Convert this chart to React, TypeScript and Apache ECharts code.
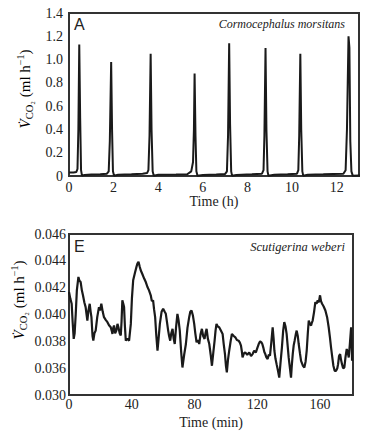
import React, { useEffect, useRef } from "react";
import * as echarts from "echarts";

// Panel A: Cormocephalus morsitans, time (h) vs VCO2 (ml h-1)
const hoursA = [
  0, 0.2, 0.33, 0.38, 0.42, 0.46, 0.5, 0.54, 0.58, 0.7, 1.0, 1.4, 1.7,
  1.78, 1.83, 1.89, 1.93, 1.97, 2.02, 2.2, 2.8, 3.3, 3.5,
  3.56, 3.61, 3.66, 3.7, 3.75, 3.8, 4.0, 4.8, 5.3,
  5.48, 5.56, 5.6, 5.63, 5.67, 5.71, 5.76, 6.0, 6.6, 7.0,
  7.08, 7.13, 7.18, 7.22, 7.27, 7.31, 7.5, 8.2, 8.65,
  8.72, 8.76, 8.81, 8.85, 8.9, 8.94, 9.2, 9.8, 10.22,
  10.28, 10.32, 10.37, 10.41, 10.46, 10.5, 10.7, 11.4, 12.3,
  12.4, 12.46, 12.53, 12.57, 12.61, 12.66, 12.72, 13.0, 13.1,
];
const vco2A = [
  0.03, 0.03, 0.035, 0.06, 0.4, 1.13, 0.5, 0.05, 0.005, 0.008, 0.012, 0.015, 0.02,
  0.04, 0.3, 0.98, 0.4, 0.04, 0.003, 0.01, 0.015, 0.02, 0.025,
  0.05, 0.35, 1.05, 0.4, 0.04, 0.003, 0.01, 0.012, 0.015,
  0.04, 0.12, 0.4, 0.88, 0.35, 0.04, 0.003, 0.008, 0.012, 0.018,
  0.04, 0.35, 1.14, 0.45, 0.04, 0.003, 0.008, 0.014, 0.02,
  0.05, 0.35, 1.1, 0.4, 0.04, 0.003, 0.01, 0.014, 0.02,
  0.05, 0.35, 1.05, 0.4, 0.04, 0.003, 0.01, 0.014, 0.02,
  0.05, 0.4, 1.2, 1.1, 0.3, 0.04, 0.003, 0.005, 0.005,
];

// Panel E: Scutigerina weberi, time (min) vs VCO2 (ml h-1)
const minutesE = [
  0, 0.8, 1.7, 2.3, 3.0, 3.6, 4.3, 5.0, 6.0, 6.7, 7.4, 8.2, 8.9, 9.8, 10.6, 11.2,
  11.7, 12.4, 13.2, 13.8, 14.3, 15.0, 15.5, 16.2, 17.0, 18.0, 19.1, 19.8, 20.6,
  21.5, 22.3, 23.4, 24.5, 25.5, 26.6, 27.2, 27.7, 28.2, 28.7, 29.4, 30.2, 30.9,
  31.5, 32.3, 33.0, 33.5, 34.0, 34.6, 35.1, 35.6, 36.2, 37.2, 38.3, 39.4, 40.1,
  40.9, 42.0, 43.0, 43.6, 44.3, 45.0, 45.7, 46.8, 47.9, 49.0, 50.0, 51.0, 52.1,
  52.8, 53.6, 54.2, 54.9, 55.6, 56.4, 57.1, 57.9, 59.0, 60.0, 61.0, 61.7, 62.5,
  63.2, 63.8, 64.5, 65.2, 66.0, 66.7, 67.4, 68.2, 69.1, 69.8, 70.6, 71.5, 72.3,
  73.4, 74.5, 75.5, 76.6, 77.3, 78.1, 79.0, 79.8, 80.5, 81.3, 82.2, 83.0, 83.8,
  84.7, 85.5, 86.4, 87.0, 87.7, 88.5, 89.4, 90.3, 91.1, 92.0, 92.8, 93.4, 94.0,
  94.8, 95.7, 96.8, 97.9, 98.6, 99.4, 100.0, 100.6, 101.3, 102.1, 103.0, 103.8,
  105.0, 106.0, 107.0, 108.1, 108.9, 109.6, 110.1, 110.6, 111.5, 112.3, 113.6,
  114.9, 116.0, 117.0, 118.0, 119.1, 120.0, 120.9, 121.8, 122.6, 123.2, 123.8,
  124.5, 125.1, 125.8, 126.6, 127.3, 128.1, 129.0, 129.8, 130.4, 130.9, 131.6,
  132.3, 133.2, 134.0, 134.8, 135.7, 136.5, 137.2, 138.0, 138.7, 139.4, 140.0,
  140.8, 141.5, 142.0, 142.6, 143.2, 143.8, 144.5, 145.1, 145.8, 146.4, 147.2,
  147.9, 149.0, 150.0, 150.8, 151.5, 152.2, 152.8, 153.5, 154.3, 154.8, 155.3,
  156.2, 157.0, 157.8, 158.5, 159.2, 160.0, 160.6, 161.3, 162.3, 163.4, 164.5,
  165.5, 166.3, 167.0, 167.8, 168.5, 169.3, 170.2, 171.0, 171.5, 172.1, 172.8,
  173.4, 174.0, 174.7, 175.5, 176.2, 177.0, 177.6, 178.3, 179.0, 179.8, 180.1, 180.4,
];
const vco2E = [
  0.04168, 0.0412, 0.0408, 0.0395, 0.03818, 0.0386, 0.04005, 0.0418, 0.0428, 0.0425, 0.04243, 0.0418, 0.04143, 0.0409, 0.04055, 0.04,
  0.03955, 0.0403, 0.0408, 0.0402, 0.0398, 0.0384, 0.03805, 0.0386, 0.0388, 0.0398, 0.04055, 0.0403, 0.0408,
  0.0402, 0.0398, 0.0396, 0.03943, 0.0392, 0.03905, 0.0388, 0.03855, 0.039, 0.03918, 0.0386, 0.0388, 0.0393,
  0.03905, 0.0386, 0.03843, 0.0395, 0.04105, 0.0408, 0.04055, 0.0392, 0.03805, 0.0382, 0.03805, 0.0393, 0.0412,
  0.04255, 0.0431, 0.04355, 0.0438, 0.04393, 0.0436, 0.0433, 0.043, 0.04268, 0.0424, 0.04205, 0.0418, 0.04143,
  0.041, 0.04105, 0.0404, 0.0398, 0.0385, 0.0373, 0.0382, 0.0393, 0.0402, 0.04043, 0.0402, 0.04005, 0.0394,
  0.0388, 0.0384, 0.03805, 0.0386, 0.03893, 0.0382, 0.0378, 0.039, 0.04005, 0.0396, 0.0388, 0.0372, 0.03605,
  0.037, 0.0378, 0.039, 0.0398, 0.0402, 0.0403, 0.0399, 0.0393, 0.0386, 0.03793, 0.0381, 0.0378, 0.0385,
  0.03893, 0.0384, 0.03818, 0.0386, 0.03893, 0.0382, 0.0378, 0.037, 0.03618, 0.0372, 0.03805, 0.0388, 0.0393,
  0.0391, 0.03905, 0.0388, 0.03855, 0.0378, 0.03705, 0.0362, 0.03568, 0.0366, 0.0373, 0.038, 0.03855,
  0.0384, 0.0383, 0.0381, 0.03805, 0.0379, 0.03768, 0.0373, 0.0368, 0.0371, 0.03718, 0.037,
  0.03718, 0.0369, 0.03705, 0.0373, 0.03718, 0.0375, 0.0378, 0.038, 0.03793, 0.0378, 0.03755,
  0.0372, 0.03705, 0.0368, 0.03668, 0.037, 0.03693, 0.038, 0.03905, 0.0382, 0.0373, 0.0367,
  0.0363, 0.0358, 0.0353, 0.0364, 0.03755, 0.0388, 0.03943, 0.0391, 0.03855, 0.0376, 0.0368,
  0.036, 0.0353, 0.0362, 0.03705, 0.0377, 0.03805, 0.0385, 0.0388, 0.0384, 0.0378, 0.0371,
  0.03655, 0.0362, 0.03605, 0.0365, 0.0373, 0.0386, 0.03955, 0.0393, 0.03918, 0.0394, 0.03955,
  0.0402, 0.04093, 0.0408, 0.04105, 0.0409, 0.04143, 0.041, 0.0408, 0.0406, 0.0403, 0.0398,
  0.03905, 0.0383, 0.03755, 0.0368, 0.03618, 0.0358, 0.0358, 0.036, 0.0363, 0.0369, 0.03705,
  0.0366, 0.0363, 0.036, 0.03605, 0.0368, 0.03743, 0.0372, 0.0368, 0.0378, 0.03905, 0.0382, 0.03655,
];

const serif = "Liberation Serif";
const ink = "#222";

export default function App() {
  const ref = useRef<HTMLDivElement>(null);
  useEffect(() => {
    const chart = echarts.init(ref.current!, undefined, { renderer: "svg" });
    const axisLabelStyle = { color: ink, fontFamily: serif, fontSize: 14 };
    const yLabelRich = {
      v: { fontFamily: serif, fontSize: 15, fontStyle: "italic", color: ink, lineHeight: 19, verticalAlign: "middle" },
      s: { fontFamily: serif, fontSize: 10.5, color: ink, lineHeight: 19, verticalAlign: "bottom" },
      t: { fontFamily: serif, fontSize: 15, color: ink, lineHeight: 19, verticalAlign: "middle" },
      p: { fontFamily: serif, fontSize: 10, color: ink, lineHeight: 19, verticalAlign: "top" },
    };
    const yLabelText = "{v|V̇}{s|CO₂}{t| (ml h}{p|−1}{t|)}";
    chart.setOption({
      animation: false,
      grid: [
        { left: 69, top: 13, right: 27, bottom: 268, show: true, borderColor: "#333", borderWidth: 2 },
        { left: 69, top: 234, right: 33, bottom: 49, show: true, borderColor: "#333", borderWidth: 2 },
      ],
      xAxis: [
        {
          type: "value", gridIndex: 0, min: 0, max: 13, interval: 2,
          axisLine: { show: false }, axisTick: { show: false }, splitLine: { show: false },
          axisLabel: { ...axisLabelStyle, margin: 4, showMaxLabel: false },
          name: "Time (h)", nameLocation: "middle", nameGap: 17,
          nameTextStyle: { color: ink, fontFamily: serif, fontSize: 14 },
        },
        {
          type: "value", gridIndex: 1, min: 0, max: 181, interval: 40,
          axisLine: { show: false }, axisTick: { show: false }, splitLine: { show: false },
          axisLabel: { ...axisLabelStyle, margin: 2, showMaxLabel: false },
          name: "Time (min)", nameLocation: "middle", nameGap: 20,
          nameTextStyle: { color: ink, fontFamily: serif, fontSize: 14 },
        },
      ],
      yAxis: [
        {
          type: "value", gridIndex: 0, min: 0, max: 1.4, interval: 0.2,
          axisLine: { show: false }, axisTick: { show: false }, splitLine: { show: false },
          axisLabel: {
            ...axisLabelStyle, margin: 6,
            formatter: (v: number) => (Math.abs(v) < 1e-9 ? "0" : v.toFixed(1)),
          },
        },
        {
          type: "value", gridIndex: 1, min: 0.034, max: 0.046, interval: 0.002,
          axisLine: { show: false }, axisTick: { show: false }, splitLine: { show: false },
          axisLabel: {
            ...axisLabelStyle, margin: 3,
            formatter: (v: number) => (v < 0.0345 ? "0.030" : v.toFixed(3)),
          },
        },
      ],
      series: [
        {
          type: "line", xAxisIndex: 0, yAxisIndex: 0, showSymbol: false, symbol: "none",
          lineStyle: { color: "#1a1a1a", width: 2 },
          data: hoursA.map((h, i) => [h, vco2A[i]]),
        },
        {
          type: "line", xAxisIndex: 1, yAxisIndex: 1, showSymbol: false, symbol: "none",
          lineStyle: { color: "#1a1a1a", width: 2.2 },
          data: minutesE.map((m, i) => [m, vco2E[i]]),
        },
      ],
      graphic: [
        { type: "text", left: 74, top: 16, style: { text: "A", fontFamily: "Liberation Sans", fontSize: 16, fill: ink } },
        { type: "text", left: 74, top: 238, style: { text: "E", fontFamily: "Liberation Sans", fontSize: 16, fill: ink } },
        {
          type: "text", x: 345, y: 24,
          style: { text: "Cormocephalus morsitans", fontFamily: serif, fontStyle: "italic", fontSize: 12, fill: ink, align: "right", verticalAlign: "middle" },
        },
        {
          type: "text", x: 345, y: 247,
          style: { text: "Scutigerina weberi", fontFamily: serif, fontStyle: "italic", fontSize: 12.5, fill: ink, align: "right", verticalAlign: "middle" },
        },
        {
          type: "text", x: 25, y: 89, rotation: Math.PI / 2,
          style: { text: yLabelText, rich: yLabelRich, align: "center", verticalAlign: "middle" },
        },
        {
          type: "text", x: 19, y: 300, rotation: Math.PI / 2,
          style: { text: yLabelText, rich: yLabelRich, align: "center", verticalAlign: "middle" },
        },
      ],
    });
    return () => chart.dispose();
  }, []);
  return <div ref={ref} style={{ width: 386, height: 444, position: "absolute", left: 0, top: 0 }} />;
}
